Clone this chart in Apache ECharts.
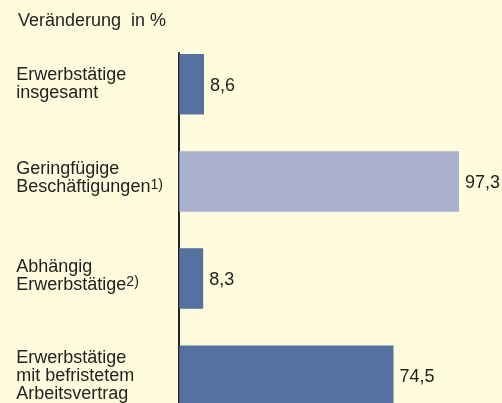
<!DOCTYPE html>
<html>
<head>
<meta charset="utf-8">
<style>
  html, body { margin: 0; padding: 0; background: #fffcdd; }
  #chart { width: 502px; height: 403px; }
</style>
<script src="https://cdn.jsdelivr.net/npm/echarts@6/dist/echarts.min.js"></script>
</head>
<body>
<div id="chart"></div>
<script>
// Daten
const categories = [
  "Erwerbstätige\ninsgesamt",
  "Geringfügige\nBeschäftigungen",
  "Abhängig\nErwerbstätige",
  "Erwerbstätige\nmit befristetem\nArbeitsvertrag"
];
const footnotes = ["", "1)", "2)", ""];
const values = [8.6, 97.3, 8.3, 74.5];
const titleText = "Veränderung  in %";

const font = "Liberation Sans, Arial, sans-serif";
const textColor = "#222";
const barColor = "#5571a0";
const lightColor = "#a9b0cd";

const chart = echarts.init(document.getElementById("chart"));

chart.setOption({
  backgroundColor: "#fffcdd",
  animation: false,
  title: {
    text: titleText,
    left: 18,
    top: 12,
    padding: 0,
    textStyle: { fontFamily: font, fontSize: 18, fontWeight: "normal", color: textColor }
  },
  grid: [
    { left: 179.3, top: 35.6, width: 287.5, height: 388.8, outerBoundsMode: "none" },
    // nur fuer die senkrechte Achsenlinie
    { left: 178.3, top: 53, width: 287.5, height: 400, outerBoundsMode: "none" }
  ],
  xAxis: [
    { type: "value", min: 0, max: 100, show: false },
    { type: "value", gridIndex: 1, show: false }
  ],
  yAxis: [
    {
      type: "category",
      inverse: true,
      data: categories.map((c, i) =>
        footnotes[i] ? { value: c, textStyle: { align: "left", padding: [0, 0, 6, 0] } } : c
      ),
      axisLine: { show: false },
      axisTick: { show: false },
      axisLabel: {
        margin: 163,
        align: "left",
        formatter: (value, index) =>
          value.split("\n").map(l => "{a|" + l + "}").join("\n") +
          (footnotes[index] ? "{s|" + footnotes[index] + "}" : ""),
        rich: {
          a: { fontFamily: font, fontSize: 18, lineHeight: 18, color: textColor },
          s: { fontFamily: font, fontSize: 14, lineHeight: 16, color: textColor, verticalAlign: "top" }
        }
      }
    },
    {
      type: "value",
      gridIndex: 1,
      axisLine: { show: true, onZero: false, lineStyle: { color: textColor, width: 2 } },
      axisTick: { show: false },
      axisLabel: { show: false },
      splitLine: { show: false }
    }
  ],
  series: [
    {
      type: "bar",
      barWidth: 60.5,
      data: values.map((v, i) => ({
        value: v,
        itemStyle: { color: footnotes[i] === "1)" ? lightColor : barColor }
      })),
      label: {
        show: true,
        position: "right",
        distance: 6,
        offset: [0, 1.5],
        fontFamily: font,
        fontSize: 18,
        color: textColor,
        formatter: p => String(p.value).replace(".", ",")
      }
    }
  ]
});
</script>
</body>
</html>
